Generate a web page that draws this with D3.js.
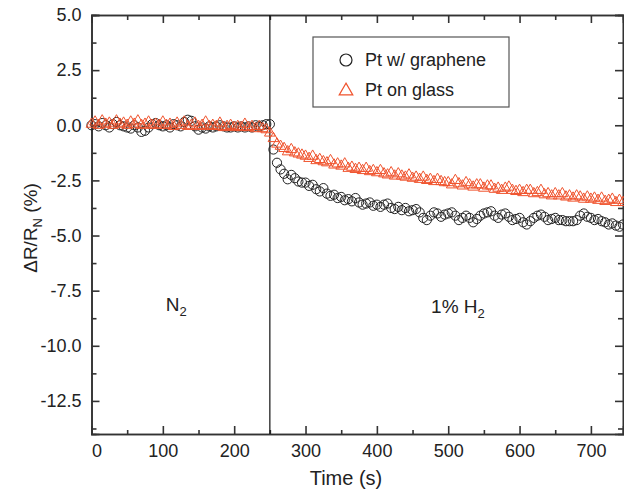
<!DOCTYPE html>
<html>
<head>
<meta charset="utf-8">
<script src="https://cdn.jsdelivr.net/npm/d3@7"></script>
<style>
  body { margin: 0; background: #fff; }
  svg { display: block; font-family: "Liberation Sans", Arial, sans-serif; }
  .axis path, .axis line { stroke: #333; stroke-width: 1.6px; }
  .axis text { fill: #222; font-size: 18px; font-family: "Liberation Sans", Arial, sans-serif; }
</style>
</head>
<body>
<svg width="624" height="492"></svg>
<script>
// sample times, one every 5 s
var times = d3.range(0, 750, 5);

// Pt w/ graphene (circles), dR/R_N in %
var graphene = [
  0.0, 0.05, -0.05, 0.1, 0.0, -0.1, 0.05, 0.15, 0.0, -0.05,
  -0.1, -0.15, 0.0, -0.1, -0.3, -0.25, -0.1, 0.05, 0.1, 0.0,
  -0.05, 0.0, -0.1, 0.05, 0.0, -0.05, 0.15, 0.25, 0.2, -0.05,
  -0.2, -0.1, -0.15, -0.05, -0.1, -0.05, 0.0, -0.05, -0.1, -0.1,
  -0.05, -0.1, -0.05, -0.1, -0.05, -0.1, 0.0, -0.05, 0.0, 0.05,
  0.05, -1.1, -1.7, -2.0, -2.2, -2.45, -2.25, -2.4, -2.55, -2.6,
  -2.6, -2.75, -2.7, -2.9, -3.0, -2.85, -3.1, -3.2, -3.15, -3.3,
  -3.25, -3.4, -3.35, -3.45, -3.3, -3.5, -3.6, -3.55, -3.5, -3.65,
  -3.6, -3.7, -3.6, -3.55, -3.75, -3.8, -3.7, -3.85, -3.75, -3.9,
  -3.85, -3.8, -3.95, -4.2, -4.3, -4.1, -3.95, -4.0, -4.15, -4.05,
  -4.0, -3.95, -4.1, -4.3, -4.2, -4.1, -4.2, -4.4, -4.25, -4.1,
  -4.0, -3.95, -3.9, -4.1, -4.2, -4.05, -4.0, -4.15, -4.3, -4.25,
  -4.2, -4.4, -4.5, -4.35, -4.2, -4.1, -4.05, -4.15, -4.3, -4.25,
  -4.2, -4.3, -4.3, -4.35, -4.35, -4.35, -4.3, -4.1, -4.0, -4.15,
  -4.2, -4.3, -4.25, -4.35, -4.4, -4.5, -4.45, -4.55, -4.6, -4.5
];

// Pt on glass (triangles)
var glass = [
  0.05, 0.15, 0.0, 0.2, 0.05, 0.1, 0.0, 0.2, 0.05, 0.1,
  0.0, 0.15, 0.05, 0.2, 0.0, 0.05, 0.15, 0.0, 0.05, 0.0,
  0.15, 0.0, 0.05, -0.05, 0.1, 0.0, 0.15, -0.05, 0.0, 0.1,
  -0.05, 0.0, 0.15, -0.05, 0.0, -0.05, 0.1, -0.1, -0.05, 0.0,
  -0.1, -0.05, -0.1, 0.05, -0.1, -0.05, -0.15, -0.05, -0.15, -0.2,
  -0.35, -0.6, -0.85, -0.95, -1.05, -1.2, -1.1, -1.25, -1.3, -1.35,
  -1.4, -1.5, -1.4, -1.6, -1.55, -1.65, -1.7, -1.6, -1.8, -1.75,
  -1.85, -1.75, -1.95, -1.9, -2.0, -1.95, -2.05, -1.95, -2.1, -2.05,
  -2.15, -2.05, -2.2, -2.25, -2.15, -2.3, -2.2, -2.3, -2.35, -2.25,
  -2.4, -2.35, -2.45, -2.35, -2.5, -2.45, -2.55, -2.45, -2.55, -2.6,
  -2.6, -2.7, -2.5, -2.65, -2.75, -2.6, -2.7, -2.8, -2.7, -2.7,
  -2.85, -2.75, -2.75, -2.9, -2.85, -2.95, -2.85, -2.8, -2.95, -3.0,
  -2.95, -3.05, -2.95, -2.95, -3.1, -3.05, -2.95, -3.15, -3.1, -3.2,
  -3.1, -3.2, -3.1, -3.25, -3.2, -3.3, -3.2, -3.25, -3.35, -3.25,
  -3.35, -3.3, -3.4, -3.3, -3.45, -3.4, -3.35, -3.5, -3.4, -3.5
];

var xTicks = [0, 100, 200, 300, 400, 500, 600, 700];
var xMinor = d3.range(50, 750, 100);
var yTicks = [5, 2.5, 0, -2.5, -5, -7.5, -10, -12.5];
var yMinor = [3.75, 1.25, -1.25, -3.75, -6.25, -8.75, -11.25, -13.75];
var switchTime = 250;
var seriesNames = ["Pt w/ graphene", "Pt on glass"];

var orange = "#f0532d";
var dark = "#333";

var svg = d3.select("svg"),
    margin = {top: 15, right: 1, bottom: 58, left: 91.5},
    width = +svg.attr("width") - margin.left - margin.right,
    height = +svg.attr("height") - margin.top - margin.bottom,
    g = svg.append("g").attr("transform", "translate(" + margin.left + "," + margin.top + ")");

var x = d3.scaleLinear().domain([0, 745]).range([0, width]);
var y = d3.scaleLinear().domain([-14, 5]).range([height, 0]);

var fmt = function(d) { return d.toFixed(1); };

// bottom axis
g.append("g")
    .attr("class", "axis")
    .attr("transform", "translate(0," + height + ")")
    .call(d3.axisBottom(x).tickValues(xTicks).tickSize(-8).tickPadding(10))
    .call(function(a) { a.selectAll("text").filter(function(d) { return d === 0; }).attr("dx", 5); });
g.append("g")
    .attr("class", "axis")
    .attr("transform", "translate(0," + height + ")")
    .call(d3.axisBottom(x).tickValues(xMinor).tickSize(-4).tickFormat(""));

// top axis
g.append("g")
    .attr("class", "axis")
    .call(d3.axisTop(x).tickValues(xTicks).tickSize(-8).tickFormat(""));
g.append("g")
    .attr("class", "axis")
    .call(d3.axisTop(x).tickValues(xMinor).tickSize(-5).tickFormat(""));

// left axis
g.append("g")
    .attr("class", "axis")
    .call(d3.axisLeft(y).tickValues(yTicks).tickSize(-8).tickPadding(10).tickFormat(fmt));
g.append("g")
    .attr("class", "axis")
    .call(d3.axisLeft(y).tickValues(yMinor).tickSize(-5).tickFormat(""));

// right axis
g.append("g")
    .attr("class", "axis")
    .attr("transform", "translate(" + width + ",0)")
    .call(d3.axisRight(y).tickValues(yTicks).tickSize(-8).tickFormat(""));
g.append("g")
    .attr("class", "axis")
    .attr("transform", "translate(" + width + ",0)")
    .call(d3.axisRight(y).tickValues(yMinor).tickSize(-5).tickFormat(""));

svg.selectAll(".axis .domain").attr("stroke", dark);

// gas switch line
g.append("line")
    .attr("x1", x(switchTime)).attr("x2", x(switchTime))
    .attr("y1", 0).attr("y2", height)
    .attr("stroke", "#111").attr("stroke-width", 1.2);

// graphene circles
g.append("g").selectAll("circle")
    .data(graphene)
  .enter().append("circle")
    .attr("cx", function(d, i) { return x(times[i]); })
    .attr("cy", function(d) { return y(d); })
    .attr("r", 4.6)
    .attr("fill", "none")
    .attr("stroke", "#222")
    .attr("stroke-width", 1);

// glass triangles
var tri = d3.symbol().type(d3.symbolTriangle).size(50);
g.append("g").selectAll("path")
    .data(glass)
  .enter().append("path")
    .attr("transform", function(d, i) { return "translate(" + x(times[i]) + "," + y(d) + ")"; })
    .attr("d", tri)
    .attr("fill", "none")
    .attr("stroke", orange)
    .attr("stroke-width", 1);

// legend
var legend = g.append("g").attr("transform", "translate(" + (313 - margin.left) + "," + (37 - margin.top) + ")");
legend.append("rect")
    .attr("width", 196).attr("height", 70)
    .attr("fill", "#fff").attr("stroke", "#555").attr("stroke-width", 1.2);
legend.append("circle")
    .attr("cx", 33).attr("cy", 23).attr("r", 6)
    .attr("fill", "none").attr("stroke", "#222").attr("stroke-width", 1.2);
legend.append("path")
    .attr("transform", "translate(33,54)")
    .attr("d", d3.symbol().type(d3.symbolTriangle).size(80))
    .attr("fill", "none").attr("stroke", orange).attr("stroke-width", 1.2);
legend.selectAll("text")
    .data(seriesNames)
  .enter().append("text")
    .attr("x", 52)
    .attr("y", function(d, i) { return 29 + i * 30; })
    .attr("font-size", 18)
    .attr("fill", "#222")
    .text(function(d) { return d; });

// gas labels
var n2 = g.append("text")
    .attr("x", x(104)).attr("y", 311 - margin.top)
    .attr("font-size", 19).attr("fill", "#222");
n2.append("tspan").text("N");
n2.append("tspan").attr("font-size", 13).attr("dy", 5).text("2");

var h2 = g.append("text")
    .attr("x", x(476)).attr("y", 313 - margin.top)
    .attr("font-size", 19).attr("fill", "#222");
h2.append("tspan").text("1% H");
h2.append("tspan").attr("font-size", 13).attr("dy", 5).text("2");

// axis titles
svg.append("text")
    .attr("x", 346).attr("y", 485)
    .attr("text-anchor", "middle")
    .attr("font-size", 20).attr("fill", "#222")
    .text("Time (s)");

var yl = svg.append("text")
    .attr("transform", "translate(37,228) rotate(-90)")
    .attr("text-anchor", "middle")
    .attr("font-size", 19).attr("fill", "#222");
yl.append("tspan").text("\u0394R/R");
yl.append("tspan").attr("font-size", 13).attr("dy", 5).text("N");
yl.append("tspan").attr("dy", -5).text(" (%)");
</script>
</body>
</html>
